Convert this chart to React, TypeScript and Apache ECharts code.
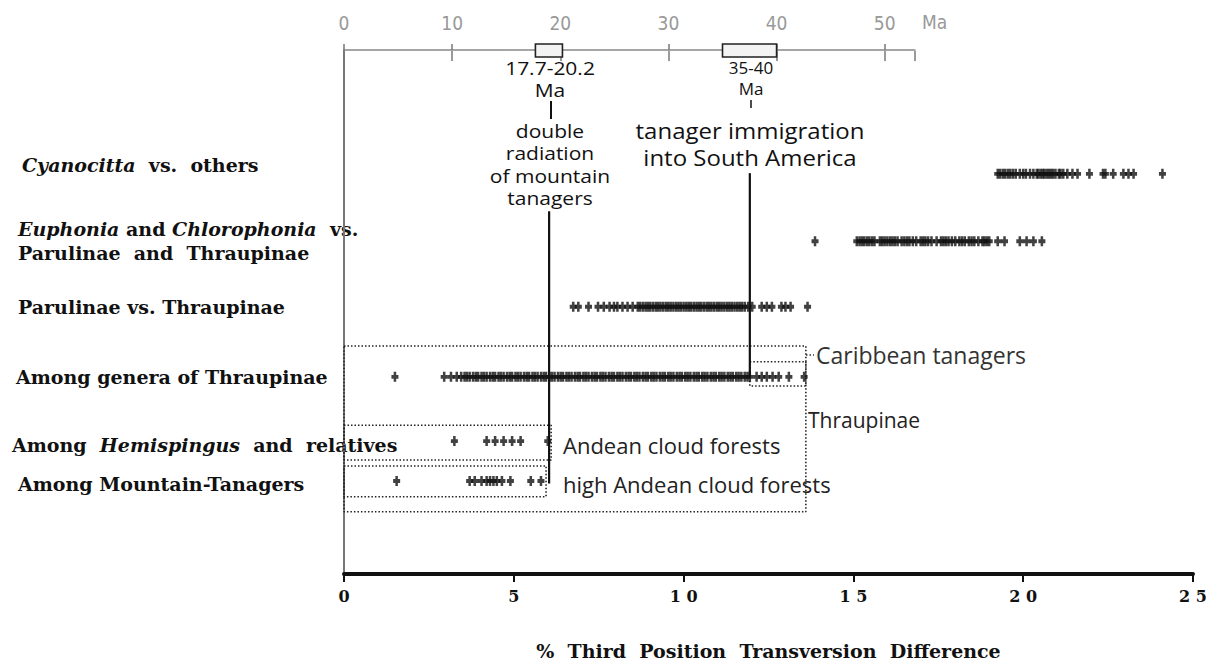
import React, { useEffect, useRef } from 'react';
import * as echarts from 'echarts';

// ---- data ----
const xTicks = [0, 5, 10, 15, 20, 25];
const maTicks = [0, 10, 20, 30, 40, 50];
const maBoxes = [
  [17.7, 20.2],
  [35, 40],
];
// vertical position of each comparison row (y axis units)
const rowPos = [1.89, 2.92, 3.92, 4.99, 5.97, 6.58];

const cyanocitta = [19.25, 19.32, 19.4, 19.47, 19.55, 19.62, 19.7, 19.78, 19.9, 20.0, 20.08, 20.2, 20.3, 20.4, 20.45, 20.52, 20.58, 20.63, 20.7, 20.76, 20.82, 20.88, 20.95, 21.05, 21.1, 21.18, 21.3, 21.45, 21.6, 21.95, 22.35, 22.42, 22.65, 22.95, 23.1, 23.25, 24.1];
const euphonia = [13.87, 15.1, 15.18, 15.25, 15.32, 15.4, 15.47, 15.55, 15.62, 15.78, 15.85, 15.92, 16.0, 16.08, 16.15, 16.22, 16.3, 16.42, 16.5, 16.58, 16.65, 16.75, 16.85, 16.98, 17.05, 17.12, 17.2, 17.3, 17.45, 17.58, 17.65, 17.72, 17.8, 17.9, 18.0, 18.12, 18.2, 18.28, 18.4, 18.48, 18.56, 18.68, 18.8, 18.86, 18.93, 19.0, 19.25, 19.45, 19.9, 20.1, 20.3, 20.55];
const parulinae = [6.75, 6.9, 7.2, 7.48, 7.65, 7.82, 7.95, 8.05, 8.2, 8.35, 8.5, 8.65, 8.72, 8.8, 8.88, 8.95, 9.02, 9.1, 9.18, 9.25, 9.32, 9.4, 9.48, 9.55, 9.62, 9.7, 9.78, 9.85, 9.92, 10.0, 10.08, 10.15, 10.22, 10.3, 10.38, 10.45, 10.52, 10.6, 10.68, 10.75, 10.82, 10.9, 10.98, 11.05, 11.12, 11.2, 11.28, 11.35, 11.42, 11.5, 11.58, 11.65, 11.72, 11.8, 11.9, 12.02, 12.3, 12.45, 12.6, 12.88, 13.0, 13.15, 13.65];
const genera = [1.5, 2.95, 3.15, 3.32, 3.45, 3.55, 3.62, 3.7, 3.8, 3.88, 3.95, 4.05, 4.12, 4.2, 4.3, 4.38, 4.45, 4.55, 4.62, 4.7, 4.8, 4.88, 4.95, 5.05, 5.12, 5.2, 5.3, 5.38, 5.45, 5.55, 5.62, 5.7, 5.8, 5.88, 5.95, 6.05, 6.12, 6.2, 6.3, 6.38, 6.45, 6.55, 6.62, 6.7, 6.8, 6.88, 6.95, 7.05, 7.12, 7.2, 7.3, 7.38, 7.45, 7.55, 7.62, 7.7, 7.8, 7.88, 7.95, 8.05, 8.12, 8.2, 8.3, 8.38, 8.45, 8.55, 8.62, 8.7, 8.8, 8.88, 8.95, 9.05, 9.12, 9.2, 9.3, 9.38, 9.45, 9.55, 9.62, 9.7, 9.8, 9.88, 9.95, 10.05, 10.12, 10.2, 10.3, 10.38, 10.45, 10.55, 10.62, 10.7, 10.8, 10.88, 10.95, 11.05, 11.12, 11.2, 11.3, 11.38, 11.45, 11.55, 11.62, 11.7, 11.8, 11.88, 11.95, 12.15, 12.3, 12.45, 12.62, 12.8, 13.1, 13.55];
const hemispingus = [3.25, 4.2, 4.45, 4.7, 4.95, 5.2, 6.0];
const mountain = [1.55, 3.7, 3.85, 4.05, 4.2, 4.3, 4.4, 4.5, 4.65, 4.9, 5.5, 5.8];
const rows = [cyanocitta, euphonia, parulinae, genera, hemispingus, mountain];

// clade boxes [xMin, xMax, yTop, yBottom]
const thraupinaeBox = [0, 13.6, 4.52, 7.05];
const caribbeanBox = [11.95, 13.6, 4.76, 5.13];
const hemispingusBox = [0, 6.1, 5.73, 6.26];
const mountainBox = [0, 5.95, 6.35, 6.82];
// [x, yTop, yBottom]
const radiationLine = [6.04, 2.46, 6.62];
const immigrationLine = [11.95, 1.88, 4.99];

const SERIF = "'DejaVu Serif', 'Liberation Serif', serif";
const SANS = "'Open Sans', 'Noto Sans', sans-serif";
const COND = "'DejaVu Sans Condensed', 'DejaVu Sans', sans-serif";
const PLUS = 'path://M3.2,0H6.8V3.1H10V6.9H6.8V10H3.2V6.9H0V3.1H3.2Z';

function boxPath(b: number[]) {
  return [
    [b[0], b[2]],
    [b[1], b[2]],
    [b[1], b[3]],
    [b[0], b[3]],
    [b[0], b[2]],
  ];
}

function lbl(parts: [string, boolean][]) {
  return parts.map(([t, it]) => `{${it ? 'i' : 'b'}|${t}}`).join('');
}

const LFS = 19;
const labelRich = {
  i: { fontFamily: SERIF, fontSize: LFS, fontWeight: 'bold', fontStyle: 'italic', fill: '#111', color: '#111' },
  b: { fontFamily: SERIF, fontSize: LFS, fontWeight: 'bold', fill: '#111', color: '#111' },
};

const rowLabels: { x: number; y: number; text: string }[] = [
  { x: 22, y: 165, text: lbl([['Cyanocitta', true], ['  vs.  others', false]]) },
  { x: 18, y: 229, text: lbl([['Euphonia', true], [' and ', false], ['Chlorophonia', true], ['  vs.', false]]) },
  { x: 18, y: 253, text: lbl([['Parulinae  and  Thraupinae', false]]) },
  { x: 18, y: 307, text: lbl([['Parulinae vs. Thraupinae', false]]) },
  { x: 16, y: 377, text: lbl([['Among genera of Thraupinae', false]]) },
  { x: 12, y: 445, text: lbl([['Among  ', false], ['Hemispingus', true], ['  and  relatives', false]]) },
  { x: 18, y: 484, text: lbl([['Among Mountain-Tanagers', false]]) },
];

const annotations: { x: number; y: number; text: string; size: number; sy?: number; align?: string; color?: string }[] = [
  { x: 550, y: 68, text: '17.7-20.2', size: 21, sy: 0.85 },
  { x: 550, y: 90, text: 'Ma', size: 21, sy: 0.85 },
  { x: 550, y: 131, text: 'double', size: 21, sy: 0.86 },
  { x: 550, y: 153.5, text: 'radiation', size: 21, sy: 0.86 },
  { x: 550, y: 176, text: 'of mountain', size: 21, sy: 0.86 },
  { x: 550, y: 198.5, text: 'tanagers', size: 21, sy: 0.86 },
  { x: 751, y: 68, text: '35-40', size: 17, sy: 0.95 },
  { x: 751, y: 89, text: 'Ma', size: 17, sy: 0.95 },
  { x: 750, y: 130, text: 'tanager immigration', size: 24, sy: 0.92 },
  { x: 750, y: 157, text: 'into South America', size: 24, sy: 0.92 },
  { x: 816, y: 355, text: 'Caribbean tanagers', size: 23, align: 'left', color: '#333' },
  { x: 808, y: 420, text: 'Thraupinae', size: 21, align: 'left', color: '#222' },
  { x: 563, y: 445, text: 'Andean cloud forests', size: 22, align: 'left', color: '#222' },
  { x: 563, y: 484, text: 'high Andean cloud forests', size: 22, align: 'left', color: '#222' },
];

export default function App() {
  const ref = useRef<HTMLDivElement>(null);
  useEffect(() => {
    if (!ref.current) return;
    const chart = echarts.init(ref.current, undefined, { renderer: 'svg' });

    const dotted = (name: string, pts: number[][]) => ({
      name,
      type: 'line',
      xAxisIndex: 0,
      yAxisIndex: 0,
      data: pts,
      symbol: 'none',
      silent: true,
      z: 2,
      lineStyle: { color: '#222', width: 1.6, type: [1.5, 2] },
    });
    const solid = (name: string, l: number[]) => ({
      name,
      type: 'line',
      xAxisIndex: 0,
      yAxisIndex: 0,
      data: [
        [l[0], l[1]],
        [l[0], l[2]],
      ],
      symbol: 'none',
      silent: true,
      z: 4,
      lineStyle: { color: '#111', width: 2.2 },
    });

    const graphic: any[] = [];
    rowLabels.forEach((r) =>
      graphic.push({
        type: 'text',
        x: r.x,
        y: r.y,
        style: { text: r.text, rich: labelRich, fontFamily: SERIF, fontSize: LFS, fontWeight: 'bold', fill: '#111', textAlign: 'left', verticalAlign: 'middle', textVerticalAlign: 'middle' },
      })
    );
    annotations.forEach((a) =>
      graphic.push({
        type: 'text',
        x: a.x,
        y: a.y,
        scaleY: a.sy || 1,
        style: {
          text: a.text,
          fontFamily: SANS,
          fontSize: a.size,
          fill: a.color || '#111',
          textAlign: a.align || 'center',
          verticalAlign: 'middle',
          textVerticalAlign: 'middle',
        },
      })
    );
    graphic.push({ type: 'text', x: 922, y: 22, style: { text: 'Ma', fontFamily: COND, fontSize: 19, fill: '#999', textAlign: 'left', verticalAlign: 'middle', textVerticalAlign: 'middle' } });
    graphic.push({ type: 'line', shape: { x1: 551, y1: 101, x2: 551, y2: 119 }, style: { stroke: '#111', lineWidth: 2 } });
    graphic.push({ type: 'line', shape: { x1: 751, y1: 100, x2: 751, y2: 108 }, style: { stroke: '#111', lineWidth: 1.5 } });
    graphic.push({ type: 'line', shape: { x1: 806, y1: 355, x2: 814, y2: 355 }, style: { stroke: '#333', lineWidth: 1.5, lineDash: [1.5, 2] } });

    chart.setOption({
      animation: false,
      backgroundColor: '#fff',
      grid: [
        { left: 344, right: 17, top: 50, bottom: 95 },
        { left: 344, top: 50, width: 571, height: 1 },
      ],
      xAxis: [
        {
          type: 'value',
          gridIndex: 0,
          min: 0,
          max: 25,
          interval: 5,
          position: 'bottom',
          axisLine: { show: true, onZero: false, lineStyle: { color: '#111', width: 4 } },
          axisTick: { show: true, length: 8, lineStyle: { color: '#111', width: 2 } },
          axisLabel: {
            formatter: (v: number) => (xTicks.includes(v) ? String(v).split('').join(' ') : ''),
            fontFamily: SERIF,
            fontWeight: 'bold',
            fontSize: 16,
            color: '#111',
            margin: 14,
            showMinLabel: true,
            showMaxLabel: true,
          },
          splitLine: { show: false },
          name: '%  Third  Position  Transversion  Difference',
          nameLocation: 'middle',
          nameGap: 67,
          nameTextStyle: { fontFamily: SERIF, fontWeight: 'bold', fontSize: 19, color: '#111' },
        },
        {
          type: 'value',
          gridIndex: 1,
          min: 0,
          max: 52.8,
          interval: 10,
          position: 'top',
          axisLine: { show: true, onZero: false, lineStyle: { color: '#888', width: 1.5 } },
          axisTick: { show: true, length: 6, lineStyle: { color: '#777', width: 1.5 } },
          axisLabel: {
            formatter: (v: number) => (maTicks.includes(v) ? String(v) : ''),
            fontFamily: COND,
            fontSize: 19,
            color: '#999',
            margin: 18,
            showMaxLabel: false,
          },
          splitLine: { show: false },
        },
        {
          type: 'value',
          gridIndex: 1,
          min: 0,
          max: 52.8,
          interval: 10,
          position: 'bottom',
          axisLine: { show: false, onZero: false },
          axisTick: { show: true, length: 10, lineStyle: { color: '#777', width: 1.5 } },
          axisLabel: { show: false },
          splitLine: { show: false },
        },
      ],
      yAxis: [
        {
          type: 'value',
          gridIndex: 0,
          min: 0,
          max: 8,
          inverse: true,
          axisLine: { show: true, onZero: false, lineStyle: { color: '#777', width: 2 } },
          axisTick: { show: false },
          axisLabel: { show: false },
          splitLine: { show: false },
        },
        { type: 'value', gridIndex: 1, min: 0, max: 1, show: false },
      ],
      series: [
        dotted('Thraupinae', boxPath(thraupinaeBox)),
        dotted('Caribbean', boxPath(caribbeanBox)),
        dotted('Hemispingus box', boxPath(hemispingusBox)),
        dotted('Mountain box', boxPath(mountainBox)),
        solid('radiation', radiationLine),
        solid('immigration', immigrationLine),
        ...rows.map((vals, i) => ({
          name: 'row' + i,
          type: 'scatter',
          xAxisIndex: 0,
          yAxisIndex: 0,
          data: vals.map((v) => [v, rowPos[i]]),
          symbol: PLUS,
          symbolSize: [7, 10],
          itemStyle: { color: '#111' },
          z: 5,
          silent: true,
        })),
        {
          name: 'Ma boxes',
          type: 'custom',
          xAxisIndex: 1,
          yAxisIndex: 1,
          data: maBoxes,
          encode: { x: [0, 1] },
          z: 6,
          silent: true,
          renderItem: (params: any, api: any) => {
            const a = api.coord([api.value(0), 0.5]);
            const b = api.coord([api.value(1), 0.5]);
            return {
              type: 'rect',
              shape: { x: a[0], y: a[1] - 6.5, width: b[0] - a[0], height: 13 },
              style: { fill: '#f3f3f3', stroke: '#222', lineWidth: 1.6 },
            };
          },
        },
      ],
      graphic,
    });
    return () => chart.dispose();
  }, []);
  return <div ref={ref} style={{ position: 'absolute', left: 0, top: 0, width: 1210, height: 669 }} />;
}
